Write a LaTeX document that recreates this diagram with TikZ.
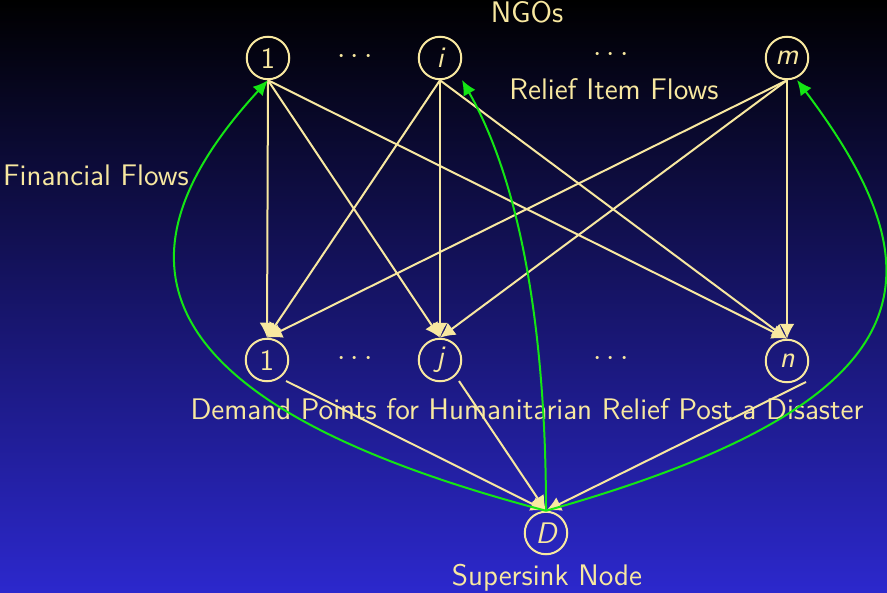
\documentclass[tikz,border=0pt]{standalone}
\usetikzlibrary{arrows.meta}
\definecolor{ylw}{RGB}{248,232,160}
\definecolor{grn}{RGB}{20,230,20}
\definecolor{bgbot}{RGB}{44,40,205}
\tikzset{
  nd/.style={circle,draw=ylw,line width=0.8pt,minimum size=17pt,inner sep=0pt,text=ylw,font=\sffamily\fontsize{11.9}{14}\selectfont},
  lbl/.style={text=ylw,font=\sffamily\fontsize{11.9}{14}\selectfont,inner sep=0pt},
  yarr/.style={draw=ylw,line width=0.8pt,-{Latex[length=6pt,width=6pt]}},
  garr/.style={draw=grn,line width=0.8pt,-{Latex[length=6pt,width=5.5pt]}}
}
\begin{document}
\begin{tikzpicture}[x=0.4pt,y=-0.4pt]
\shade[top color=black,bottom color=bgbot] (0,0) rectangle (887,593);
\useasboundingbox (0,0) rectangle (887,593);
% top nodes
\node[nd] (t1) at (268,58) {1};
\node[nd] (ti) at (440,58) {\slshape i};
\node[nd] (tm) at (787,58) {\slshape m};
% bottom nodes
\node[nd] (b1) at (267,360) {1};
\node[nd] (bj) at (440,360) {\slshape j};
\node[nd] (bn) at (787,361) {\slshape n};
% sink
\node[nd] (D) at (546,533) {\slshape D};
% dots
\node[lbl] (d1) at (355,57) {$\cdots$};
\node[lbl] (d2) at (611,55) {$\cdots$};
\node[lbl] (d3) at (355,359) {$\cdots$};
\node[lbl] (d4) at (611,359) {$\cdots$};
% labels
\node[lbl] (ngo) at (527,12) {NGOs};
\node[lbl] (rif) at (614,89) {Relief Item Flows};
\node[lbl] (ff) at (96,175) {Financial Flows};
\node[lbl] (dp) at (527,409) {Demand Points for Humanitarian Relief Post a Disaster};
\node[lbl] (ss) at (547,578) {Supersink Node};
% relief flows
\foreach \s in {t1,ti,tm}{
  \foreach \t in {b1,bj,bn}{
    \draw[yarr] (\s.south) -- (\t.north);
  }
}
\foreach \s in {b1,bj,bn}{
  \draw[yarr] ([shift={(19,21)}]\s.center) -- (D.north);
}
% financial flows
\draw[garr] (D.north) .. controls (125,400) and (112,250) .. (t1.south);
\draw[garr] (D.north) .. controls (546,370) and (530,200) .. ([shift={(22,22)}]ti.center);
\draw[garr] (D.north) .. controls (940,400) and (940,270) .. ([shift={(10,22)}]tm.center);
\end{tikzpicture}
\end{document}
